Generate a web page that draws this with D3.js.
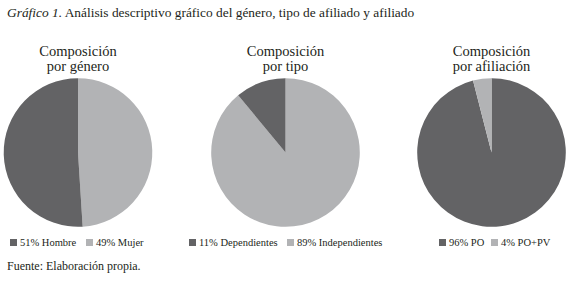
<!DOCTYPE html>
<html>
<head>
<meta charset="utf-8">
<script src="https://cdn.jsdelivr.net/npm/d3@7"></script>
<style>
  body { margin: 0; background: #fff; }
</style>
</head>
<body>
<svg id="chart"></svg>
<script>
// chart titles (two lines each)
const pieTitles = [
  ["Composición", "por género"],
  ["Composición", "por tipo"],
  ["Composición", "por afiliación"]
]

// legend labels, in legend order
const labelsGenero = ["Hombre", "Mujer"]
const labelsTipo = ["Dependientes", "Independientes"]
const labelsAfiliacion = ["PO", "PO+PV"]

// percentages, in legend order
const valuesGenero = [51, 49]
const valuesTipo = [11, 89]
const valuesAfiliacion = [96, 4]

// clockwise order from 12 o'clock (index into legend order)
const orderGenero = [1, 0]
const orderTipo = [1, 0]
const orderAfiliacion = [0, 1]

const colors = ["#636365", "#b2b3b5"]

const width = 580
const height = 285
const serif = "'Liberation Serif', 'DejaVu Serif', serif"

const svg = d3.select("#chart")
  .attr("width", width)
  .attr("height", height)
  .style("display", "block")
  .attr("font-family", serif)

// main title
const title = svg.append("text")
  .attr("x", 7)
  .attr("y", 17)
  .attr("font-family", serif)
  .style("font-size", "13.4px")
  .attr("fill", "#231f20")
title.append("tspan").style("font-style", "italic").text("Gráfico 1.")
title.append("tspan").text(" Análisis descriptivo gráfico del género, tipo de afiliado y afiliado")

const pies = [
  { labels: labelsGenero, values: valuesGenero, order: orderGenero, cx: 78, legendX: [10, 86] },
  { labels: labelsTipo, values: valuesTipo, order: orderTipo, cx: 285.5, legendX: [189, 287] },
  { labels: labelsAfiliacion, values: valuesAfiliacion, order: orderAfiliacion, cx: 491.5, legendX: [439, 491] }
]

const cy = 152.5
const radius = 74.3

const pie = d3.pie().sort(null).value(d => d.value)
const arc = d3.arc().innerRadius(0).outerRadius(radius)

pies.forEach((p, i) => {
  const g = svg.append("g").attr("transform", `translate(${p.cx},${cy})`)

  const slices = p.order.map(k => ({ value: p.values[k], color: colors[k] }))

  g.selectAll("path")
    .data(pie(slices))
    .join("path")
    .attr("d", arc)
    .attr("fill", d => d.data.color)

  // title above pie
  const t = svg.append("text")
    .attr("x", p.cx)
    .attr("text-anchor", "middle")
    .attr("font-family", serif)
    .style("font-size", "14.5px")
    .attr("fill", "#231f20")
  pieTitles[i].forEach((line, j) => {
    t.append("tspan").attr("x", p.cx).attr("y", 56 + j * 15).text(line)
  })

  // legend
  p.labels.forEach((label, k) => {
    const lx = p.legendX[k]
    svg.append("rect")
      .attr("x", lx)
      .attr("y", 239)
      .attr("width", 7)
      .attr("height", 7)
      .attr("fill", colors[k])
    svg.append("text")
      .attr("x", lx + 10)
      .attr("y", 246)
      .attr("font-family", serif)
      .style("font-size", "10.5px")
      .attr("fill", "#231f20")
      .text(`${p.values[k]}% ${label}`)
  })
})

// source note
svg.append("text")
  .attr("x", 7)
  .attr("y", 270)
  .attr("font-family", serif)
  .style("font-size", "12px")
  .attr("fill", "#231f20")
  .text("Fuente: Elaboración propia.")
</script>
</body>
</html>
